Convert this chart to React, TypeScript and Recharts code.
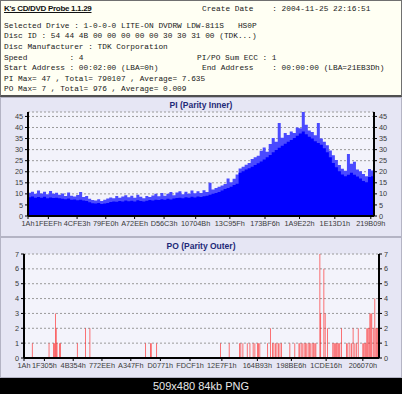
import React from 'react';
import { ComposedChart, Area, Bar, XAxis, YAxis, CartesianGrid } from 'recharts';

const END_LBA = 0x21eb3d;

const piTickLabels = ['1Ah', '1FEEFh', '4CFE3h', '79FE0h', 'A72EEh', 'D56C3h', '10704Bh', '13C95Fh', '173BF6h', '1A9E22h', '1E13D1h', '219B09h'];
const poTickLabels = ['1Ah', '1F305h', '4B354h', '772EEh', 'A347Fh', 'D0771h', 'FDCF1h', '12E7F1h', '164B93h', '198BE6h', '1CDE16h', '206070h'];
const piYTicks = [0, 5, 10, 15, 20, 25, 30, 35, 40, 45];
const poYTicks = [0, 1, 2, 3, 4, 5, 6, 7];

const piBase = [
  8.5, 8.8, 8.3, 8.6, 8.2, 8.7, 8.0, 8.4, 8.1, 8.3, 8.0, 7.8, 7.6, 7.9, 7.3, 7.5, 7.1, 7.4, 7.0, 6.8,
  6.2, 5.8, 5.6, 5.9, 5.4, 5.7, 5.9, 6.3, 6.6, 6.4, 6.8, 6.5, 7.0, 6.7, 6.9, 6.6, 7.1, 6.8, 6.5, 6.9,
  7.2, 7.0, 7.4, 7.2, 7.6, 7.3, 7.8, 7.5, 7.9, 8.1, 8.3, 8.0, 8.5, 8.2, 8.7, 8.4, 8.8, 8.6, 8.9, 9.2,
  9.6, 10.0, 10.4, 10.8, 11.5, 12.2, 12.6, 13.2, 14.0, 14.6, 19.5, 20.2, 21.0, 21.6, 22.3, 23.0, 23.8, 24.6, 25.5, 26.5,
  27.6, 28.8, 29.8, 30.8, 31.8, 32.6, 33.5, 34.3, 35.2, 36.3, 37.3, 38.2, 37.0, 35.8, 35.0, 33.8, 33.0, 32.2, 30.6, 28.8,
  26.5, 24.0, 22.0, 20.2, 18.8, 18.0, 18.6, 19.5, 18.6, 17.8, 17.0, 15.8, 15.2, 17.6, 18.0, 17.8,
];
const piMax = [
  10.5, 11.0, 10.0, 11.5, 10.2, 11.0, 9.8, 11.3, 10.0, 10.5, 9.6, 10.2, 9.0, 10.6, 9.2, 8.8, 9.5, 10.8, 8.6, 9.0,
  7.8, 7.2, 7.0, 7.6, 6.8, 7.3, 7.9, 8.4, 8.0, 9.0, 8.3, 8.8, 9.4, 8.5, 9.1, 8.2, 9.6, 8.7, 8.0, 9.0,
  8.6, 9.3, 10.1, 8.9, 10.4, 9.2, 10.0, 10.8, 9.4, 10.6, 11.2, 9.8, 11.0, 10.1, 11.5, 10.3, 11.2, 10.4, 11.6, 10.8,
  15.0, 12.0, 12.6, 13.2, 13.8, 14.5, 17.0, 15.2, 16.8, 18.8, 21.5, 22.3, 23.2, 24.0, 25.8, 26.5, 27.2, 29.5, 31.0, 29.0,
  32.5, 35.2, 33.5, 42.0, 35.4, 37.5, 36.6, 38.2, 37.5, 40.0, 39.6, 47.0, 41.2, 38.6, 38.0, 36.5, 42.0, 35.0, 33.5, 32.0,
  29.6, 27.5, 25.3, 23.0, 21.4, 20.5, 28.0, 23.6, 24.5, 21.0, 20.2, 19.0, 18.0, 21.2, 20.6, 20.0,
];

// PO error positions (thousands of LBA) and counts
const poLbaK = [
  3, 52, 157, 185, 191, 197, 202, 207, 222, 229, 334, 386, 413, 762, 792, 797, 831,
  1231, 1285, 1349, 1358, 1371, 1398, 1415, 1435, 1446, 1462, 1468, 1477, 1526, 1544, 1557, 1565, 1574, 1584, 1593, 1603, 1613,
  1665, 1696, 1722, 1728, 1740, 1747, 1759, 1765, 1772, 1784, 1790, 1797, 1809, 1815, 1822, 1828,
  1853, 1858, 1878, 1886, 1901, 1934, 1941, 1947, 1953, 1959, 1966, 1972, 1978, 1989,
  2020, 2028, 2041, 2051, 2061, 2072, 2081, 2093, 2122, 2128, 2135, 2141, 2147, 2153, 2160, 2166, 2172, 2178, 2187, 2197, 2204, 2210, 2216,
];
const poValues = [
  1, 1, 1, 1, 1, 3, 2, 1, 1, 1, 1, 2, 2, 1, 1, 1, 1,
  1, 1, 1, 1, 1, 1, 1, 1, 1, 1, 1, 1, 1, 2, 1, 1, 1, 1, 1, 1, 1,
  1, 1, 1, 1, 1, 1, 1, 1, 1, 1, 1, 1, 1, 1, 1, 1,
  7, 3, 6, 3, 2, 1, 1, 1, 1, 1, 1, 1, 1, 2,
  1, 1, 1, 1, 2, 1, 1, 2, 1, 1, 1, 1, 2, 2, 2, 3, 3, 3, 2, 4, 2, 2, 2,
];

const headerLeft = [
  'Selected Drive : 1-0-0-0 LITE-ON DVDRW LDW-811S   HS0P',
  'Disc ID : 54 44 4B 00 00 00 00 00 30 30 31 00 (TDK...)',
  'Disc Manufacturer : TDK Corporation',
  'Speed         : 4',
  'Start Address : 00:02:00 (LBA=0h)',
  'PI Max= 47 , Total= 790107 , Average= 7.635',
  'PO Max= 7 , Total= 976 , Average= 0.009',
];

const hex = (s: string) => parseInt(s.replace(/h$/, ''), 16);

const piData = piBase.map((b, i) => ({
  lba: (i * END_LBA) / (piBase.length - 1),
  base: b,
  max: piMax[i],
}));
const poData = poLbaK.map((k, i) => ({ lba: k * 1000, po: poValues[i] }));

const piTickMap: Record<number, string> = {};
piTickLabels.forEach((l) => (piTickMap[hex(l)] = l));
const poTickMap: Record<number, string> = {};
poTickLabels.forEach((l) => (poTickMap[hex(l)] = l));

const tickFont = { fontSize: 7.3, fill: '#3a3a3a', fontFamily: 'Liberation Sans, Arial, sans-serif' };
const mono = { fontFamily: 'Liberation Mono, monospace', fontSize: 7.8, color: '#1a1a1a', whiteSpace: 'pre' as const, position: 'absolute' as const, lineHeight: '10px' };
const titleStyle = {
  position: 'absolute' as const,
  left: 0,
  width: 402,
  textAlign: 'center' as const,
  fontFamily: 'Liberation Sans, Arial, sans-serif',
  fontWeight: 700,
  fontSize: 8.5,
  color: '#1e2a78',
  lineHeight: '10px',
};

export default function App() {
  return (
    <div style={{ position: 'absolute', left: 0, top: 0, width: 402, height: 394, background: '#e6e6f4', overflow: 'hidden' }}>
      {/* header */}
      <div style={{ position: 'absolute', left: 0, top: 0, width: 400, height: 94, background: '#fffff3', border: '1px solid #707070', borderBottom: '2px solid #505050' }} />
      <div style={{ position: 'absolute', left: 4, top: 4, fontFamily: 'Liberation Sans, Arial, sans-serif', fontWeight: 700, fontSize: 8, letterSpacing: -0.3, textDecoration: 'underline', color: '#111', lineHeight: '10px' }}>
        K's CD/DVD Probe 1.1.29
      </div>
      <div style={{ ...mono, left: 202, top: 4 }}>{'Create Date    : 2004-11-25 22:16:51'}</div>
      {headerLeft.map((t, i) => (
        <div key={i} style={{ ...mono, left: 4, top: 20.7 + i * 10.6 }}>{t}</div>
      ))}
      <div style={{ ...mono, left: 197, top: 20.7 + 3 * 10.6 }}>{'PI/PO Sum ECC : 1'}</div>
      <div style={{ ...mono, left: 202, top: 20.7 + 4 * 10.6 }}>{'End Address    : 00:00:00 (LBA=21EB3Dh)'}</div>

      {/* panels */}
      <div style={{ position: 'absolute', left: 0, top: 97, width: 400, height: 138, border: '1px solid #b4b4c4' }} />
      <div style={{ position: 'absolute', left: 0, top: 237, width: 400, height: 139, border: '1px solid #b4b4c4' }} />

      <div style={{ position: 'absolute', left: 0, top: 100 }}>
        <ComposedChart width={402} height={135} data={piData} margin={{ top: 12, right: 4, bottom: 0, left: 4 }}>
          <CartesianGrid horizontal vertical={false} stroke="#9a9a9a" strokeDasharray="2 2" fill="#f3f3fb" yAxisId="left" />
          <XAxis
            dataKey="lba"
            type="number"
            domain={[0, END_LBA]}
            ticks={piTickLabels.map(hex)}
            interval={0}
            tickFormatter={(v: number) => piTickMap[v] ?? ''}
            tick={tickFont}
            tickSize={3}
            tickMargin={2}
            height={19}
            axisLine={{ stroke: '#000', strokeWidth: 2 }}
            tickLine={{ stroke: '#000' }}
          />
          <XAxis xAxisId="top" orientation="top" type="number" domain={[0, END_LBA]} height={0} tick={false} tickLine={false} axisLine={{ stroke: '#555' }} />
          <YAxis yAxisId="left" domain={[0, 47]} ticks={piYTicks} interval={0} width={24} tick={tickFont} tickSize={3} tickMargin={2} axisLine={{ stroke: '#000', strokeWidth: 2 }} tickLine={{ stroke: '#000' }} allowDataOverflow />
          <YAxis yAxisId="right" orientation="right" domain={[0, 47]} ticks={piYTicks} interval={0} width={24} tick={tickFont} tickSize={3} tickMargin={2} axisLine={{ stroke: '#000', strokeWidth: 2 }} tickLine={{ stroke: '#000' }} allowDataOverflow />
          <Area yAxisId="left" type="stepAfter" dataKey="max" stroke="none" fill="#4a4aff" fillOpacity={1} isAnimationActive={false} dot={false} activeDot={false} />
          <Area yAxisId="left" type="stepAfter" dataKey="base" stroke="none" fill="#0000ff" fillOpacity={1} isAnimationActive={false} dot={false} activeDot={false} />
        </ComposedChart>
      </div>
      <div style={{ ...titleStyle, top: 100 }}>PI (Parity Inner)</div>

      <div style={{ position: 'absolute', left: 0, top: 240 }}>
        <ComposedChart width={402} height={138} data={poData} margin={{ top: 14, right: 4, bottom: 0, left: 4 }}>
          <CartesianGrid horizontal vertical={false} stroke="#9a9a9a" strokeDasharray="2 2" fill="#f3f3fb" yAxisId="left" />
          <XAxis
            dataKey="lba"
            type="number"
            domain={[0, END_LBA]}
            ticks={poTickLabels.map(hex)}
            interval={0}
            tickFormatter={(v: number) => poTickMap[v] ?? ''}
            tick={tickFont}
            tickSize={3}
            tickMargin={2}
            height={20}
            axisLine={{ stroke: '#000', strokeWidth: 2 }}
            tickLine={{ stroke: '#000' }}
          />
          <YAxis yAxisId="left" domain={[0, 7]} ticks={poYTicks} interval={0} width={20} tick={tickFont} tickSize={3} tickMargin={2} axisLine={{ stroke: '#000', strokeWidth: 2 }} tickLine={{ stroke: '#000' }} allowDataOverflow />
          <YAxis yAxisId="right" orientation="right" domain={[0, 7]} ticks={poYTicks} interval={0} width={19} tick={tickFont} tickSize={3} tickMargin={2} axisLine={{ stroke: '#000', strokeWidth: 2 }} tickLine={{ stroke: '#000' }} allowDataOverflow />
          <Bar yAxisId="left" dataKey="po" barSize={1} fill="#ff1010" fillOpacity={0.8} isAnimationActive={false} />
        </ComposedChart>
      </div>
      <div style={{ ...titleStyle, top: 241 }}>PO (Parity Outer)</div>

      {/* bottom bar */}
      <div style={{ position: 'absolute', left: 0, top: 378, width: 402, height: 16, background: '#000', color: '#e8e8e8', fontFamily: 'Liberation Sans, Arial, sans-serif', fontSize: 11, lineHeight: '16px', textAlign: 'center' }}>
        509x480 84kb PNG
      </div>
    </div>
  );
}
